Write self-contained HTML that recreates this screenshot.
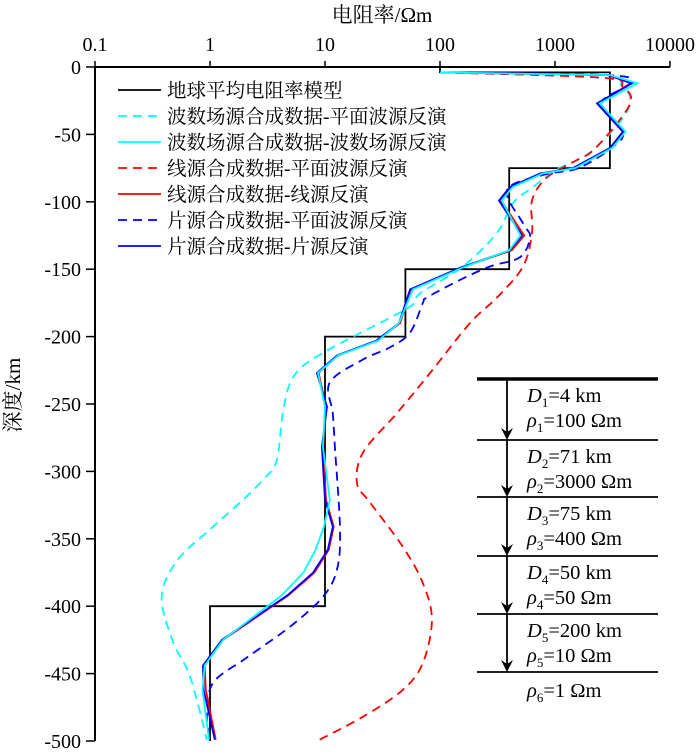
<!DOCTYPE html>
<html><head><meta charset="utf-8">
<style>
html,body{margin:0;padding:0;background:#fff;}
svg{display:block;font-family:"Liberation Serif","Noto Serif CJK SC",serif;}
</style></head>
<body>
<svg id="chart" width="700" height="755" viewBox="0 0 700 755">
<g id="axes"></g>
<g id="series"></g>
<g id="legend"></g>
<g id="inset"></g>
</svg>
<script>
const xTicks = [0.1, 1, 10, 100, 1000, 10000];
const xTickLabels = ["0.1", "1", "10", "100", "1000", "10000"];
const yTicks = [0, -50, -100, -150, -200, -250, -300, -350, -400, -450, -500];

// Layered model (depth km, resistivity Ωm)
const modelDepth = [0, 4, 4, 75, 75, 150, 150, 200, 200, 400, 400, 500];
const modelRho =   [100, 100, 3000, 3000, 400, 400, 50, 50, 10, 10, 1, 1];

// 片源合成数据-片源反演
const sheetInvDepth = [4, 6, 12, 27, 48, 60, 75, 79, 89, 99, 125, 136, 149, 165, 190, 203, 214, 227, 252, 282, 321, 341, 358, 375, 392, 425, 444, 462, 499];
const sheetInvRho = [100, 2900, 4680, 2320, 3890, 3010, 1435, 741, 406, 326, 516, 406, 149, 55, 44, 28, 12.7, 8.5, 10.4, 9.4, 10, 11.7, 10.6, 7.9, 4.7, 1.27, 0.87, 0.88, 1.1];
// 线源合成数据-线源反演
const lineInvDepth = [4, 6, 12, 27, 48, 60, 75, 79, 89, 99, 125, 136, 149, 165, 190, 203, 214, 227, 252, 282, 321, 341, 358, 375, 392, 425, 444, 462, 499];
const lineInvRho = [100, 2900, 4550, 2400, 4000, 3100, 1480, 760, 420, 340, 540, 420, 152, 56, 45, 28.5, 13, 8.8, 10.2, 9.6, 10.2, 11.9, 10.8, 8.1, 4.8, 1.3, 0.9, 0.92, 1.12];
// 波数场源合成数据-波数场源反演
const waveInvDepth = [4, 6, 12, 27, 48, 60, 75, 79, 89, 99, 125, 136, 149, 165, 190, 203, 214, 227, 252, 282, 321, 341, 358, 375, 392, 425, 444, 462, 499];
const waveInvRho = [100, 3000, 5200, 2450, 4100, 3150, 1500, 780, 430, 345, 500, 400, 155, 58, 44, 29, 13, 8.7, 10, 9.6, 11, 9.8, 8.3, 6.5, 4.2, 1.3, 0.9, 0.86, 0.98];
// 波数场源合成数据-平面波源反演
const wavePlaneDepth = [4, 8, 14, 22, 32, 47, 65, 76, 89, 101, 123, 148, 168, 179, 212, 230, 257, 292, 306, 321, 343, 366, 393, 427, 452, 499];
const wavePlaneRho = [100, 2600, 3800, 4500, 4300, 3190, 1900, 1040, 644, 431, 313, 158, 67, 52, 9.6, 5.3, 4.3, 3.8, 2.9, 1.94, 1.0, 0.52, 0.38, 0.48, 0.67, 0.94];
// 线源合成数据-平面波源反演
const linePlaneDepth = [4, 8, 15, 24, 39, 62, 69, 82, 99, 123, 148, 171, 190, 227, 257, 286, 309, 323, 356, 383, 410, 442, 462, 482, 499];
const linePlaneRho = [100, 2600, 3900, 4600, 3670, 2140, 1550, 851, 631, 631, 527, 313, 182, 82, 42, 21.4, 19, 24.6, 47.6, 71, 85, 71, 47.6, 21.4, 9];
// 片源合成数据-平面波源反演
const sheetPlaneDepth = [4, 6, 12, 27, 48, 60, 75, 80, 91, 116, 126, 141, 148, 158, 171, 175, 197, 208, 217, 234, 257, 282, 343, 373, 393, 415, 438, 457, 482, 497];
const sheetPlaneRho = [100, 2800, 4500, 2500, 3900, 3100, 1600, 800, 383, 527, 607, 497, 272, 149, 77, 71, 55, 36.7, 21.4, 11, 11.7, 12.2, 13.5, 12.7, 9.6, 5, 2.1, 1.06, 0.94, 1.0];

const legendLabels = ["地球平均电阻率模型","波数场源合成数据-平面波源反演","波数场源合成数据-波数场源反演","线源合成数据-平面波源反演","线源合成数据-线源反演","片源合成数据-平面波源反演","片源合成数据-片源反演"];

const NS = "http://www.w3.org/2000/svg";
const X0 = 95, DEC = 115, Y0 = 67, YS = 1.348;
function xScale(v){ return X0 + (Math.log10(v) + 1) * DEC; }
function yScale(d){ return Y0 + Math.abs(d) * YS; }
function mk(tag, attrs, parent){ const e = document.createElementNS(NS, tag); for (const k in attrs) e.setAttribute(k, attrs[k]); parent.appendChild(e); return e; }
function smoothPath(p){
  let s = 'M' + p[0][0].toFixed(1) + ',' + p[0][1].toFixed(1);
  for (let i = 0; i < p.length - 1; i++) {
    const p0 = p[i - 1] || p[i], p1 = p[i], p2 = p[i + 1], p3 = p[i + 2] || p2;
    const c1x = p1[0] + (p2[0] - p0[0]) / 6, c1y = p1[1] + (p2[1] - p0[1]) / 6;
    const c2x = p2[0] - (p3[0] - p1[0]) / 6, c2y = p2[1] - (p3[1] - p1[1]) / 6;
    s += ` C${c1x.toFixed(1)},${c1y.toFixed(1)} ${c2x.toFixed(1)},${c2y.toFixed(1)} ${p2[0].toFixed(1)},${p2[1].toFixed(1)}`;
  }
  return s;
}

const axes = document.getElementById('axes');
let a = mk('line', {x1: X0, y1: Y0, x2: xScale(10000), y2: Y0, stroke: '#000', 'stroke-width': 2}, axes);


a = mk('line', {x1: X0, y1: Y0, x2: X0, y2: yScale(500), stroke: '#000', 'stroke-width': 2}, axes);


xTicks.forEach((v, i) => {
  const x = xScale(v);
  const t = mk('line', {x1: x, y1: Y0, x2: x, y2: Y0 - 6, stroke: '#000', 'stroke-width': 1.5}, axes);
  
  
  const l = mk('text', {x: x, y: 51, 'text-anchor': 'middle', 'font-size': 20}, axes);
  l.textContent = xTickLabels[i];
  
  
});
yTicks.forEach(v => {
  const y = yScale(v);
  const t = mk('line', {x1: X0 - 9, y1: y, x2: X0, y2: y, stroke: '#000', 'stroke-width': 1.5}, axes);
  
  
  const l = mk('text', {x: 81, y: y + 7, 'text-anchor': 'end', 'font-size': 20}, axes);
  l.textContent = String(v);
  
  
});
let tt = mk('text', {x: 382, y: 22, 'text-anchor': 'middle', 'font-size': 21}, axes);
tt.textContent = "电阻率/Ωm";


tt = mk('text', {x: 20, y: 395, 'text-anchor': 'middle', 'font-size': 21, transform: 'rotate(-90 20 395)'}, axes);
tt.textContent = "深度/km";



const seriesG = document.getElementById('series');
const styles = [
  {d: modelDepth, r: modelRho, c: '#000', dash: '', name: 'model-line', smooth: false},
  {d: wavePlaneDepth, r: wavePlaneRho, c: '#00ffff', dash: '9 6', name: 'wavenumber-plane-line', smooth: true},
  {d: linePlaneDepth, r: linePlaneRho, c: '#ff0000', dash: '9 6', name: 'line-source-plane-line', smooth: true},
  {d: sheetPlaneDepth, r: sheetPlaneRho, c: '#0000ff', dash: '9 6', name: 'sheet-source-plane-line', smooth: true},
  {d: lineInvDepth, r: lineInvRho, c: '#ff0000', dash: '', name: 'line-source-inversion-line', smooth: false},
  {d: sheetInvDepth, r: sheetInvRho, c: '#0000ff', dash: '', name: 'sheet-source-inversion-line', smooth: false},
  {d: waveInvDepth, r: waveInvRho, c: '#00ffff', dash: '', name: 'wavenumber-inversion-line', smooth: false}
];
styles.forEach(s => {
  const pts = s.d.map((d, i) => [xScale(s.r[i]), yScale(d)]);
  let p;
  if (s.smooth) {
    p = mk('path', {d: smoothPath(pts), fill: 'none', stroke: s.c, 'stroke-width': 1.8}, seriesG);
  } else {
    p = mk('polyline', {points: pts.map(q => q[0].toFixed(1) + ',' + q[1].toFixed(1)).join(' '), fill: 'none', stroke: s.c, 'stroke-width': 1.8}, seriesG);
  }
  if (s.dash) p.setAttribute('stroke-dasharray', s.dash);
  
  
});

const legendG = document.getElementById('legend');
const legStyles = [['#000',''],['#00ffff','9 6'],['#00ffff',''],['#ff0000','9 6'],['#ff0000',''],['#0000ff','9 6'],['#0000ff','']];
legendLabels.forEach((lab, i) => {
  const y = 90 + i * 26;
  const ln = mk('line', {x1: 118, y1: y, x2: 161, y2: y, stroke: legStyles[i][0], 'stroke-width': 1.8}, legendG);
  if (legStyles[i][1]) ln.setAttribute('stroke-dasharray', legStyles[i][1]);
  
  
  const t = mk('text', {x: 167, y: y + 7, 'font-size': 19.5}, legendG);
  t.textContent = lab;
  
  
});

const inset = document.getElementById('inset');
const lineYs = [379, 440, 497, 556, 614, 672];
const dLab = [["1","4 km","1","100 Ωm"],["2","71 km","2","3000 Ωm"],["3","75 km","3","400 Ωm"],["4","50 km","4","50 Ωm"],["5","200 km","5","10 Ωm"]];
lineYs.forEach((y, i) => {
  const l = mk('line', {x1: 477, y1: y, x2: 658, y2: y, stroke: '#000', 'stroke-width': i === 0 ? 3.5 : 1.8}, inset);
  
  
});
for (let i = 0; i < 5; i++) {
  const y1 = lineYs[i], y2 = lineYs[i + 1];
  const ar = mk('line', {x1: 507, y1: y1, x2: 507, y2: y2 - 6, stroke: '#000', 'stroke-width': 1.8}, inset);
  
  
  const hd = mk('polygon', {points: `501,${y2-12} 507,${y2} 513,${y2-12} 507,${y2-8}`, fill: '#000'}, inset);
  
  
  const t1 = mk('text', {x: 527, y: y1 + 23, 'font-size': 20.5}, inset);
  t1.innerHTML = `<tspan font-style="italic">D</tspan><tspan font-size="13" dy="5">${dLab[i][0]}</tspan><tspan dy="-5">=${dLab[i][1]}</tspan>`;
  
  
  const t2 = mk('text', {x: 527, y: y1 + 48, 'font-size': 20.5}, inset);
  t2.innerHTML = `<tspan font-style="italic">ρ</tspan><tspan font-size="13" dy="5">${dLab[i][2]}</tspan><tspan dy="-5">=${dLab[i][3]}</tspan>`;
  
  
}
const t6 = mk('text', {x: 527, y: 697, 'font-size': 20.5}, inset);
t6.innerHTML = `<tspan font-style="italic">ρ</tspan><tspan font-size="13" dy="5">6</tspan><tspan dy="-5">=1 Ωm</tspan>`;


</script>
</body></html>
